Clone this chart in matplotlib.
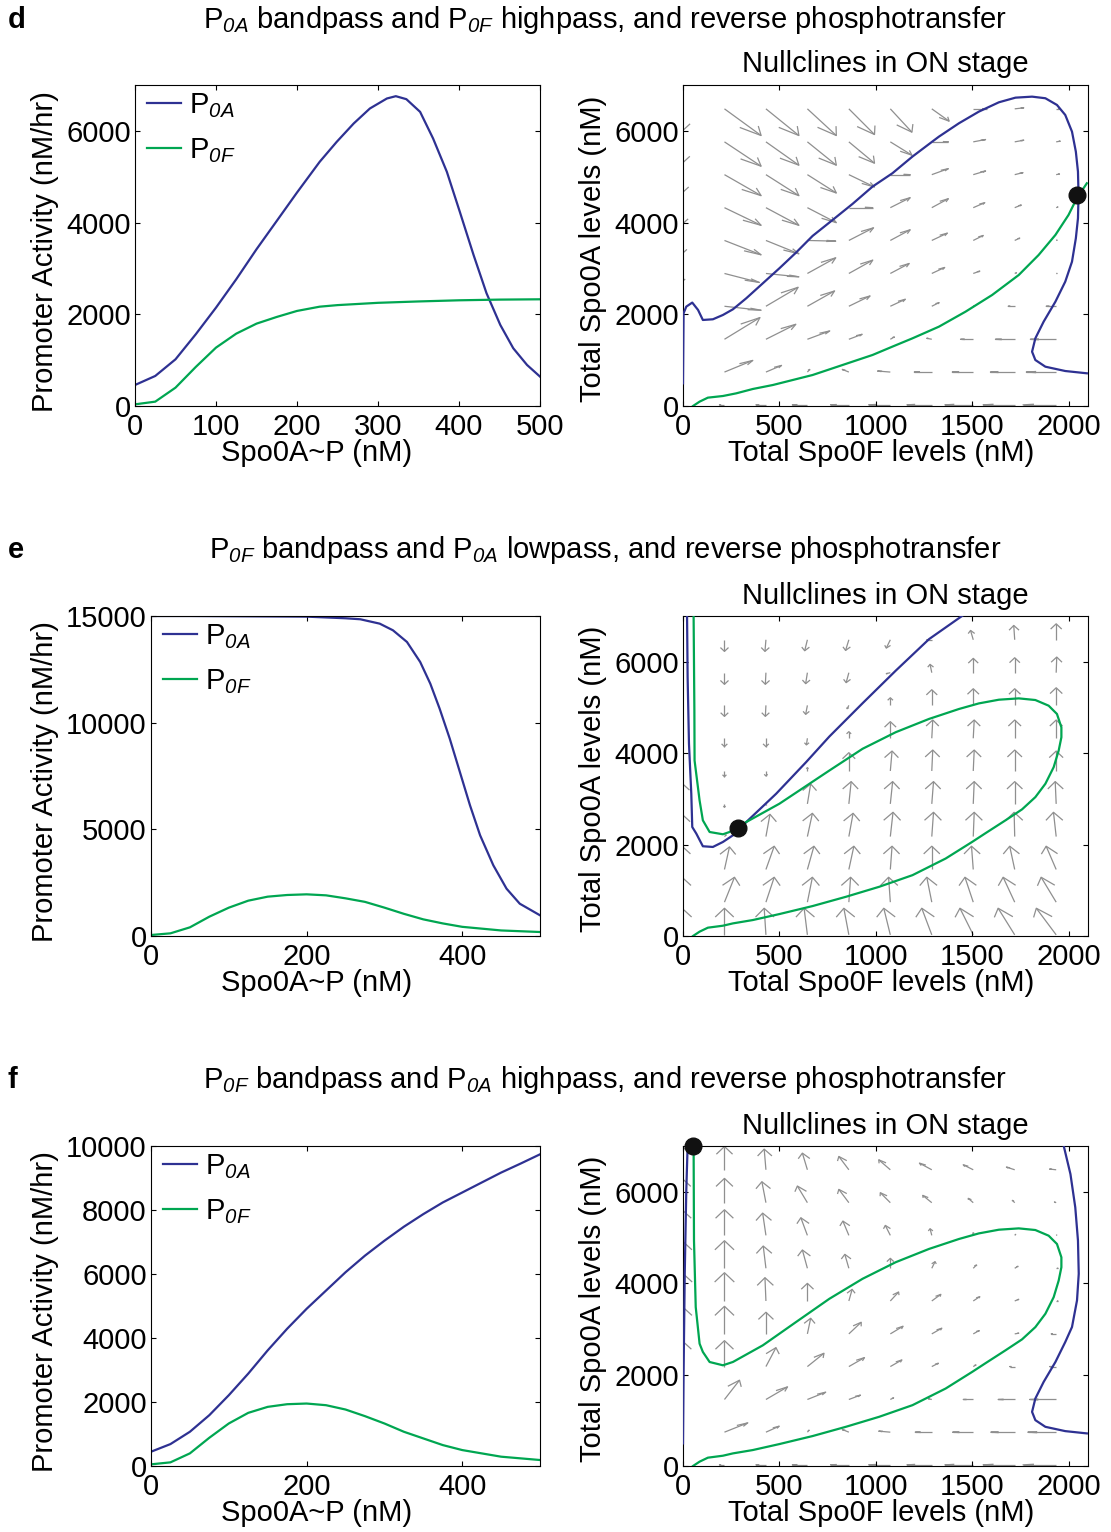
import numpy as np
import matplotlib
matplotlib.use("Agg")
import matplotlib.pyplot as plt
from matplotlib.collections import LineCollection

plt.rcParams['font.family'] = 'Liberation Sans'
plt.rcParams['mathtext.fontset'] = 'custom'
plt.rcParams['mathtext.rm'] = 'Liberation Sans:italic'
plt.rcParams['mathtext.it'] = 'Liberation Sans:italic'
plt.rcParams['font.size'] = 21
plt.rcParams['axes.linewidth'] = 0.8

BLUE = '#2e3192'
GREEN = '#00a651'
ARROW = '#8f8f8f'

# ---------------- promoter activity curves (left column) ----------------
d_x_p0a = [0, 25, 50, 75, 100, 125, 150, 175, 200, 228, 249, 270, 290, 311, 322, 335, 352, 368,
           385, 401, 418, 434, 451, 467, 484, 500]
d_p0a = [458, 655, 1018, 1564, 2145, 2764, 3418, 4036, 4655, 5325, 5760, 6161, 6488, 6706, 6756,
         6691, 6414, 5834, 5107, 4235, 3292, 2458, 1767, 1259, 895, 641]
d_x_p0f = [0, 25, 50, 75, 100, 125, 150, 175, 200, 228, 250, 300, 350, 400, 450, 500]
d_p0f = [36, 95, 400, 851, 1273, 1578, 1796, 1942, 2073, 2166, 2200, 2250, 2280, 2305, 2320, 2327]

e_x_p0a = [0, 50, 100, 150, 200, 250, 269, 294, 311, 329, 346, 359, 371, 384, 397, 410, 423, 440,
           457, 474, 500]
e_p0a = [15000, 15000, 14990, 14980, 14970, 14894, 14847, 14641, 14330, 13783, 12845, 11828,
         10656, 9250, 7689, 6127, 4721, 3314, 2218, 1514, 970]
e_x_p0f = [0, 25, 50, 75, 100, 125, 150, 175, 200, 225, 250, 275, 300, 325, 350, 375, 400, 450, 500]
e_p0f = [47, 125, 406, 906, 1328, 1656, 1844, 1922, 1953, 1906, 1766, 1600, 1330, 1040, 780, 590,
         430, 260, 187]

f_x_p0a = [0, 25, 50, 75, 100, 125, 150, 175, 200, 225, 250, 275, 300, 325, 350, 375, 400, 425,
           450, 475, 500]
f_p0a = [446, 685, 1070, 1589, 2212, 2887, 3614, 4289, 4912, 5483, 6054, 6573, 7040, 7477, 7871,
         8235, 8546, 8858, 9169, 9450, 9740]
f_x_p0f = [0, 25, 50, 75, 100, 125, 150, 175, 200, 225, 250, 275, 300, 325, 350, 375, 400, 450, 500]
f_p0f = [52, 114, 395, 883, 1329, 1661, 1848, 1931, 1952, 1900, 1765, 1558, 1329, 1070, 862, 654,
         498, 291, 187]

# ---------------- nullclines (right column) ----------------
d_n0a_x = [0, 3, 17, 48, 78, 103, 155, 207, 259, 328, 414, 500, 586, 672, 776, 879, 983, 1086,
           1190, 1293, 1327, 1431, 1534, 1638, 1724, 1810, 1879, 1939, 1982, 2017, 2037, 2048,
           2051, 2048, 2037, 2017, 1982, 1931, 1870, 1827, 1810, 1827, 1879, 1982, 2094]
d_n0a_y = [494, 2022, 2167, 2255, 2095, 1876, 1891, 1985, 2109, 2349, 2676, 3004, 3345, 3709,
           4058, 4407, 4785, 5076, 5440, 5767, 5874, 6166, 6419, 6623, 6724, 6746, 6711, 6565,
           6347, 5983, 5546, 5110, 4602, 4094, 3658, 3147, 2711, 2275, 1839, 1476, 1184, 1003,
           857, 763, 713]
d_n0f_x = [52, 86, 129, 207, 276, 362, 466, 569, 672, 776, 879, 983, 1086, 1190, 1327, 1465,
           1603, 1741, 1844, 1931, 1999, 2042, 2094]
d_n0f_y = [0, 95, 182, 218, 276, 371, 458, 567, 676, 822, 967, 1113, 1295, 1476, 1730, 2057,
           2421, 2857, 3293, 3730, 4166, 4530, 4857]
d_fixed = (2042, 4602)

e_n0a_x = [21, 24, 31, 35, 43, 48, 69, 103, 155, 207, 259, 328, 483, 638, 759, 931, 1103, 1276,
           1448]
e_n0a_y = [7004, 5658, 4204, 3839, 3112, 2384, 2240, 1963, 1948, 2057, 2203, 2493, 3112, 3802,
           4364, 5091, 5804, 6495, 7004]
e_n0f_x = [55, 59, 60, 86, 103, 138, 207, 241, 328, 500, 759, 931, 1103, 1276, 1327, 1431, 1534,
           1638, 1741, 1827, 1896, 1939, 1962, 1962, 1948, 1922, 1879, 1827, 1758, 1672, 1569,
           1500, 1362, 1190, 1017, 845, 672, 500, 362, 259, 207, 129, 86, 52]
e_n0f_y = [7004, 4931, 3839, 2966, 2530, 2275, 2225, 2275, 2493, 2894, 3620, 4095, 4458, 4749,
           4820, 4966, 5088, 5169, 5198, 5162, 5038, 4857, 4565, 4347, 4057, 3693, 3330, 3038,
           2770, 2530, 2250, 2060, 1695, 1331, 1076, 858, 655, 480, 349, 276, 225, 182, 95, 0]
e_fixed = (284, 2355)

f_n0a_left_x = [0, 3, 9, 17, 24]
f_n0a_left_y = [494, 2022, 4204, 6022, 7004]
f_n0a_right_x = [1974, 2009, 2034, 2048, 2052, 2043, 2017, 1982, 1931, 1870, 1827, 1810, 1827,
                 1879, 1982, 2094]
f_n0a_right_y = [7004, 6385, 5658, 4931, 4204, 3622, 3040, 2711, 2275, 1839, 1476, 1184, 1003,
                 857, 763, 713]
f_n0f_x = [55, 57, 66, 86, 103, 138, 207, 259, 414, 586, 759, 931, 1103, 1276, 1327, 1431, 1534,
           1638, 1741, 1827, 1896, 1939, 1962, 1962, 1948, 1922, 1879, 1827, 1758, 1672, 1569,
           1500, 1362, 1190, 1017, 845, 672, 500, 362, 259, 207, 129, 86, 52]
f_n0f_y = [7004, 4931, 3476, 2676, 2495, 2275, 2203, 2276, 2640, 3149, 3658, 4095, 4458, 4749,
           4820, 4966, 5088, 5169, 5198, 5162, 5038, 4857, 4565, 4347, 4057, 3693, 3330, 3038,
           2770, 2530, 2250, 2060, 1695, 1331, 1076, 858, 655, 480, 349, 276, 225, 182, 95, 0]
f_fixed = (50, 7000)

# ---------------- direction fields (rows bottom -> top, columns left -> right) ----------------
field_x = [0, 215, 430, 645, 860, 1075, 1290, 1505, 1720, 1935]
field_y = [25, 740, 1455, 2175, 2890, 3610, 4325, 5045, 5760, 6480]

d_U = [[0, -26, -52, -78, -95, -112, -129, -147, -164, -172],
       [0, 147, 81, 12, -34, -66, -91, -109, -126, -155],
       [0, 184, 155, 116, 69, 21, -26, -66, -100, -134],
       [0, 190, 167, 141, 110, 78, 38, 5, -34, -52],
       [-5, 181, 171, 147, 124, 98, 67, 34, 9, 3],
       [-5, 190, 171, 147, 128, 103, 81, 52, 26, 5],
       [-5, 190, 171, 150, 124, 103, 86, 60, 34, 9],
       [-5, 190, 171, 150, 133, 103, 86, 64, 43, 17],
       [-5, 190, 171, 150, 133, 112, 86, 64, 47, 21],
       [-5, 190, 171, 150, 133, 112, 90, 69, 47, 17]]
d_V = [[0, 0, 0, 0, 0, 0, 0, 0, 0, 0],
       [0, 254, 145, 58, 58, 22, 0, 0, 0, 0],
       [0, 473, 327, 182, 109, 51, 22, 0, 0, 0],
       [0, -87, 414, 334, 225, 153, 80, 7, 0, 0],
       [-180, -196, -73, 342, 291, 218, 131, 51, 15, 0],
       [-290, -313, -291, -15, 276, 233, 160, 109, 51, 7],
       [-364, -385, -385, -327, 0, 218, 196, 109, 58, 15],
       [-400, -458, -458, -400, -269, 0, 131, 80, 44, 15],
       [-470, -531, -509, -509, -465, -291, 0, 51, 36, 15],
       [-487, -582, -582, -582, -560, -509, -269, 0, 22, 0]]

e_U = [[-5, 0, -9, -17, -26, -34, -52, -69, -86, -103],
       [-5, 52, 43, 26, 9, -9, -26, -43, -60, -78],
       [-5, 26, 43, 34, 26, 9, 0, -9, -26, -52],
       [-5, 9, 21, 26, 22, 14, 9, 5, -3, -14],
       [-5, 0, 0, 17, 12, 12, 9, 5, 0, -5],
       [0, 0, 0, 0, 0, 9, 5, 5, 0, 0],
       [0, 0, 0, -5, 0, 0, 5, 5, 0, 0],
       [0, 0, -3, -9, -9, 0, 0, 0, 0, 0],
       [0, 0, -3, -9, -14, -21, -9, 0, 0, 3],
       [0, 0, -5, -14, -17, -21, -26, -14, -5, 0]]
e_V = [[582, 582, 582, 582, 582, 582, 582, 582, 582, 582],
       [545, 545, 545, 545, 545, 545, 545, 545, 545, 545],
       [509, 494, 509, 509, 509, 509, 509, 509, 509, 509],
       [487, 36, 487, 509, 509, 531, 531, 531, 531, 531],
       [450, -73, -22, 436, 487, 487, 487, 487, 487, 487],
       [0, -124, -109, 73, 400, 436, 458, 458, 458, 436],
       [0, -182, -182, -145, 145, 364, 400, 400, 400, 400],
       [0, -240, -240, -196, -73, 167, 342, 364, 364, 385],
       [0, -254, -254, -240, -218, -22, 182, 313, 327, 342],
       [0, -254, -254, -240, -233, -182, 0, 204, 313, 349]]

f_U = [[0, -26, -52, -78, -95, -112, -129, -147, -164, -172],
       [0, 121, 69, 9, -34, -60, -86, -107, -124, -147],
       [0, 78, 112, 95, 60, 17, -17, -52, -86, -138],
       [-5, 0, 52, 86, 81, 60, 34, 14, -26, -34],
       [-5, 0, 0, 17, 64, 66, 52, 31, 21, -26],
       [-5, 0, -5, 0, 17, 43, 47, 34, 21, 9],
       [-5, 0, -14, -26, -21, 0, 17, 17, 17, 9],
       [-5, 0, -17, -34, -31, -26, -9, 0, 5, 3],
       [-5, 0, -21, -52, -52, -52, -47, -26, -12, -9],
       [-5, 0, -9, -26, -52, -60, -64, -52, -43, -34]]
f_V = [[0, 0, 0, 0, 0, 0, 0, 0, 0, 0],
       [0, 204, 131, 44, 58, 22, 0, 0, 0, 0],
       [0, 422, 276, 160, 95, 36, 15, 0, 0, 0],
       [567, 567, 414, 291, 196, 145, 73, 36, 0, 0],
       [603, 603, 473, 342, 254, 167, 124, 73, 15, 0],
       [618, 618, 509, 385, 254, 196, 145, 95, 36, 0],
       [603, 603, 487, 400, 305, 218, 145, 73, 44, 0],
       [560, 560, 487, 385, 313, 218, 145, 58, 22, 7],
       [531, 531, 458, 364, 291, 218, 160, 95, 51, 15],
       [509, 509, 451, 364, 291, 218, 145, 109, 58, 15]]

titles = [r'P$_{0A}$ bandpass and P$_{0F}$ highpass, and reverse phosphotransfer',
          r'P$_{0F}$ bandpass and P$_{0A}$ lowpass, and reverse phosphotransfer',
          r'P$_{0F}$ bandpass and P$_{0A}$ highpass, and reverse phosphotransfer']
letters = ['d', 'e', 'f']

W, H = 1111, 1532
fig = plt.figure(figsize=(W / 100, H / 100), dpi=100)


def box(l, t, r, b):
    return fig.add_axes([l / W, 1 - b / H, (r - l) / W, (b - t) / H])


def style(ax):
    ax.tick_params(direction='in', top=True, right=True, length=3.5, width=0.8,
                   labelsize=21, colors='black')
    ax.tick_params(axis='x', pad=5)
    ax.tick_params(axis='y', pad=3)


def set_labels(ax, l, t, r, b, xlab, ylab, xl_cx, yl_cx, yl_cy):
    w, h = r - l, b - t
    ax.set_xlabel(xlab, fontsize=21, va='center')
    ax.set_ylabel(ylab, fontsize=21, va='center')
    ax.xaxis.set_label_coords((xl_cx - l) / w, -47 / h)
    ax.yaxis.set_label_coords((yl_cx - l) / w, (b - yl_cy) / h)


# quiver-style arrows, head computed in data units (alpha=0.33, beta=0.25)
HA, HB = 0.33, 0.25


def draw_field(ax, U, V):
    segs = []
    for j, y0 in enumerate(field_y):
        for i, x0 in enumerate(field_x):
            u, v = U[j][i], V[j][i]
            if u == 0 and v == 0:
                continue
            tx, ty = x0 + u, y0 + v
            segs.append([(x0, y0), (tx, ty)])
            segs.append([(tx - HA * (u + HB * v), ty - HA * (v - HB * u)), (tx, ty),
                         (tx - HA * (u - HB * v), ty - HA * (v + HB * u))])
    ax.add_collection(LineCollection(segs, colors=ARROW, linewidths=0.9, zorder=1))


left_boxes = [(135, 85, 540, 406), (151, 616, 540, 936), (151, 1146, 540, 1466)]
right_boxes = [(683, 85, 1088, 406), (683, 616, 1088, 936), (683, 1146, 1088, 1466)]

left_data = [(d_x_p0a, d_p0a, d_x_p0f, d_p0f), (e_x_p0a, e_p0a, e_x_p0f, e_p0f),
             (f_x_p0a, f_p0a, f_x_p0f, f_p0f)]
left_ylim = [7000, 15000, 10000]
left_xticks = [[0, 100, 200, 300, 400, 500], [0, 200, 400], [0, 200, 400]]
left_yticks = [[0, 2000, 4000, 6000], [0, 5000, 10000, 15000],
               [0, 2000, 4000, 6000, 8000, 10000]]
fields = [(d_U, d_V), (e_U, e_V), (f_U, f_V)]
fixed = [d_fixed, e_fixed, f_fixed]

for k in range(3):
    l, t, r, b = left_boxes[k]
    ax = box(l, t, r, b)
    xa, ya, xf, yf = left_data[k]
    ax.plot(xa, ya, color=BLUE, lw=1.6, label=r'P$_{0A}$', solid_joinstyle='round')
    ax.plot(xf, yf, color=GREEN, lw=1.6, label=r'P$_{0F}$', solid_joinstyle='round')
    ax.set_xlim(0, 500)
    ax.set_ylim(0, left_ylim[k])
    ax.set_xticks(left_xticks[k])
    ax.set_yticks(left_yticks[k])
    style(ax)
    set_labels(ax, l, t, r, b, 'Spo0A~P (nM)', 'Promoter Activity (nM/hr)', 317, 45, b - 154)
    ax.legend(loc='upper left', bbox_to_anchor=(12 / (r - l), 1 - 6 / (b - t)), frameon=False,
              fontsize=21, handlelength=1.15, handletextpad=0.3, labelspacing=0.55,
              borderpad=0, borderaxespad=0)

    l, t, r, b = right_boxes[k]
    ax = box(l, t, r, b)
    U, V = fields[k]
    draw_field(ax, U, V)
    if k == 0:
        ax.plot(d_n0a_x, d_n0a_y, color=BLUE, lw=1.6, zorder=3, solid_joinstyle='round')
        ax.plot(d_n0f_x, d_n0f_y, color=GREEN, lw=1.6, zorder=3, solid_joinstyle='round')
    elif k == 1:
        ax.plot(e_n0a_x, e_n0a_y, color=BLUE, lw=1.6, zorder=3, solid_joinstyle='round')
        ax.plot(e_n0f_x, e_n0f_y, color=GREEN, lw=1.6, zorder=3, solid_joinstyle='round')
    else:
        ax.plot(f_n0a_left_x, f_n0a_left_y, color=BLUE, lw=1.6, zorder=3)
        ax.plot(f_n0a_right_x, f_n0a_right_y, color=BLUE, lw=1.6, zorder=3,
                solid_joinstyle='round')
        ax.plot(f_n0f_x, f_n0f_y, color=GREEN, lw=1.6, zorder=3, solid_joinstyle='round')
    ax.plot(*fixed[k], 'o', color='#111111', ms=12, zorder=5, clip_on=False)
    ax.set_xlim(0, 2100)
    ax.set_ylim(0, 7000)
    ax.set_xticks([0, 500, 1000, 1500, 2000])
    ax.set_yticks([0, 2000, 4000, 6000])
    style(ax)
    set_labels(ax, l, t, r, b, 'Total Spo0F levels (nM)', 'Total Spo0A levels (nM)', 881, 593,
               b - 157)
    ax.set_title('Nullclines in ON stage', fontsize=21, pad=9)

    base = 28 + 530 * k
    fig.text(605 / W, 1 - base / H, titles[k], ha='center', va='baseline', fontsize=21)
    fig.text(8 / W, 1 - base / H, letters[k], ha='left', va='baseline', fontsize=21,
             fontweight='bold')

fig.savefig('out.png', dpi=100)
